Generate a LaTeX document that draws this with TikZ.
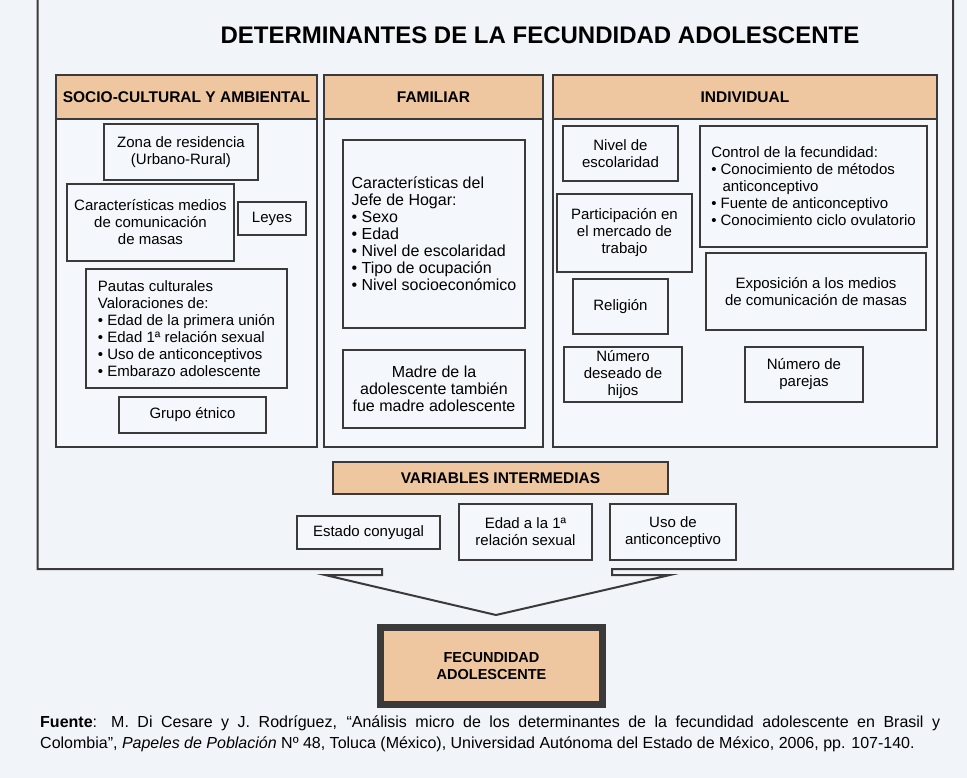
\documentclass[tikz,border=0pt]{standalone}
\usepackage{fontspec}
\setmainfont{Liberation Sans}
\definecolor{bgc}{HTML}{F1F4F9}
\definecolor{boxc}{HTML}{F4F7FB}
\definecolor{tanc}{HTML}{EEC7A0}
\definecolor{lnc}{HTML}{3A3A3A}
\newcommand\bx[7]{\node[#6, minimum width={#4-#2}, minimum height={#5-#3}] (#1) at ({(#2+#4)/2},{(#3+#5)/2}) {#7};}
\begin{document}
\begin{tikzpicture}[x=1pt,y=-1pt,
  basebox/.style={draw=lnc, line width=1.1pt, fill=boxc, inner sep=0pt, outer sep=0pt, align=center},
  txtbox/.style={basebox, font=\fontsize{15}{17}\selectfont},
  famtxt/.style={basebox, font=\fontsize{16}{17}\selectfont},
  hdrbox/.style={basebox, fill=tanc, line width=1.3pt, font=\bfseries\fontsize{15.5}{17}\selectfont},
  colbox/.style={basebox, line width=1.3pt},
  lefttxt/.style={txtbox, align=left},
  framel/.style={draw=lnc, line width=2pt, line join=miter}
]
\useasboundingbox (0,0) rectangle (967,778);
\fill[bgc] (0,0) rectangle (967,778);

% outer frame with arrow
\coordinate (ftl) at (37.5,-2);
\coordinate (ftr) at (953,-2);
\coordinate (apex) at (496,615);
\draw[framel] (ftl) -- (37.5,569) -- (382,569) -- (382,575) -- (325,575) -- (apex)
  -- (670,575) -- (612,575) -- (612,569) -- (953,569) -- (ftr);

% title
\node[font=\bfseries\fontsize{24}{26}\selectfont] (title) at (540,35) {DETERMINANTES DE LA FECUNDIDAD ADOLESCENTE};

% column headers
\bx{h1}{56}{75}{317}{119}{hdrbox}{SOCIO-CULTURAL Y AMBIENTAL}
\bx{h2}{324}{75}{543}{119}{hdrbox}{FAMILIAR}
\bx{h3}{553}{75}{937}{119}{hdrbox}{INDIVIDUAL}
% column bodies
\bx{c1}{56}{119}{317}{447}{colbox}{}
\bx{c2}{324}{119}{543}{447}{colbox}{}
\bx{c3}{553}{119}{937}{447}{colbox}{}

% socio-cultural
\bx{zona}{104}{124}{258}{180}{txtbox}{Zona de residencia\\(Urbano-Rural)}
\bx{caract}{67}{184}{234}{261}{txtbox}{Características medios\\de comunicación\\de masas}
\bx{leyes}{238}{202}{306}{235}{txtbox}{Leyes}
\bx{pautas}{86}{269}{287}{388}{lefttxt}{Pautas culturales\\Valoraciones de:\\• Edad de la primera unión\\• Edad 1ª relación sexual\\• Uso de anticonceptivos\\• Embarazo adolescente}
\bx{grupo}{119}{397}{266}{433}{txtbox}{Grupo étnico}

% familiar
\bx{jefe}{343}{140}{525}{328}{famtxt, align=left}{Características del\\Jefe de Hogar:\\• Sexo\\• Edad\\• Nivel de escolaridad\\• Tipo de ocupación\\• Nivel socioeconómico}
\bx{madre}{343}{350}{525}{428}{famtxt}{Madre de la\\adolescente también\\fue madre adolescente}

% individual
\bx{nivel}{563}{126}{678}{181}{txtbox}{Nivel de\\escolaridad}
\bx{control}{700}{126}{927}{247}{lefttxt}{Control de la fecundidad:\\• Conocimiento de métodos\\\hspace{0.75em}anticonceptivo\\• Fuente de anticonceptivo\\• Conocimiento ciclo ovulatorio}
\bx{partic}{557}{194}{692}{272}{txtbox}{Participación en\\el mercado de\\trabajo}
\bx{expos}{706}{253}{926}{330}{txtbox}{Exposición a los medios\\de comunicación de masas}
\bx{relig}{573}{279}{668}{334}{txtbox}{Religión}
\bx{numdes}{564}{347}{682}{402}{txtbox}{Número\\deseado de\\hijos}
\bx{numpar}{745}{347}{863}{402}{txtbox}{Número de\\parejas}

% variables intermedias
\bx{varint}{333}{462}{668}{494}{hdrbox}{VARIABLES INTERMEDIAS}
\bx{estado}{297}{516}{440}{549}{txtbox}{Estado conyugal}
\bx{edad}{459}{504}{592}{560}{txtbox}{Edad a la 1ª\\relación sexual}
\bx{uso}{610}{504}{736}{560}{txtbox}{Uso de\\anticonceptivo}

% result
\node[draw=lnc, line width=7pt, fill=tanc, minimum width=222, minimum height=77, inner sep=0pt, align=center,
  font=\bfseries\fontsize{14.5}{17}\selectfont] (fecund) at (491.5,666) {FECUNDIDAD\\ADOLESCENTE};

% source
\node[anchor=base west, inner sep=0pt, font=\fontsize{16}{18}\selectfont] (src1) at (40,727)
  {\makebox[900pt][s]{\textbf{Fuente}: M. Di Cesare y J. Rodríguez, “Análisis micro de los determinantes de la fecundidad adolescente en Brasil y}};
\node[anchor=base west, inner sep=0pt, font=\fontsize{16}{18}\selectfont] (src2) at (40,748)
  {Colombia”, \textit{Papeles de Población} Nº 48, Toluca (México), Universidad Autónoma del Estado de México, 2006, pp. 107-140.};
\end{tikzpicture}
\end{document}
